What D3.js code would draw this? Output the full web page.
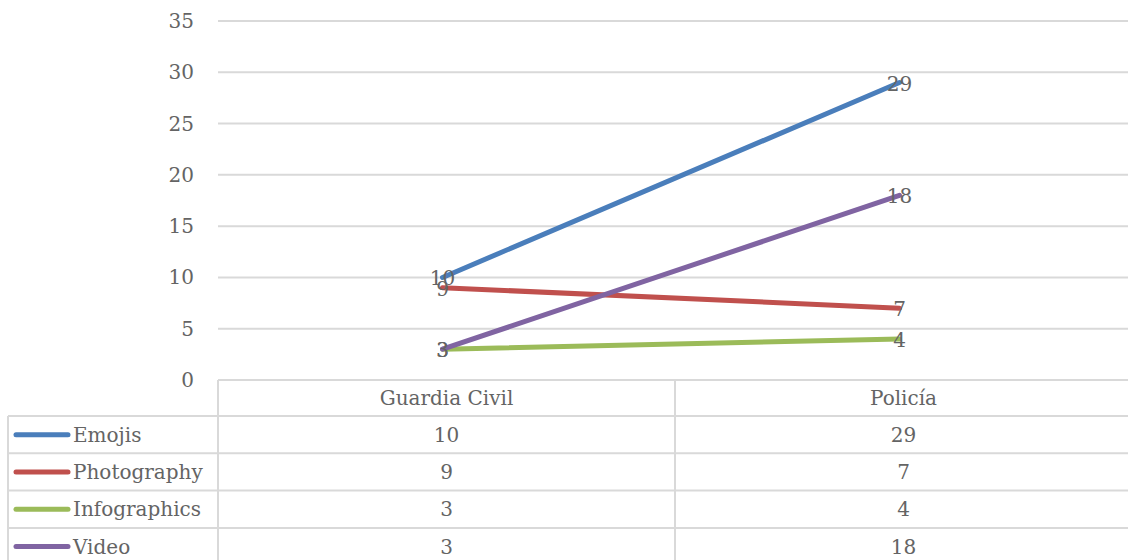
<!DOCTYPE html>
<html>
<head>
<meta charset="utf-8">
<script src="https://cdn.jsdelivr.net/npm/d3@7"></script>
<style>
  body { margin: 0; background: #fff; }
  text { font-family: "DejaVu Serif", "Liberation Serif", serif; fill: #646464; }
</style>
</head>
<body>
<script>
const categories = ["Guardia Civil", "Policía"];
const seriesNames = ["Emojis", "Photography", "Infographics", "Video"];
const emojis = [10, 29];
const photography = [9, 7];
const infographics = [3, 4];
const video = [3, 18];
const colors = ["#4a7ebb", "#c0504d", "#9bbb59", "#8064a2"];
const yTicks = [0, 5, 10, 15, 20, 25, 30, 35];

const series = [emojis, photography, infographics, video];

const w = 1128, h = 560;
const plot = {left: 218, right: 1132, top: 21, bottom: 380};
const rowH = 37.3;
const tableLeft = 8;
const fs = 20;

const svg = d3.select("body").append("svg")
    .attr("width", w)
    .attr("height", h);

let x = d3.scaleBand()
    .domain(categories)
    .range([plot.left, plot.right]);

let y = d3.scaleLinear()
    .domain([0, 35])
    .range([plot.bottom, plot.top]);

// gridlines
svg.selectAll(".grid")
    .data(yTicks.filter(d => d > 0))
    .enter().append("line")
    .attr("x1", plot.left)
    .attr("x2", w)
    .attr("y1", d => y(d))
    .attr("y2", d => y(d))
    .attr("stroke", "#d9d9d9")
    .attr("stroke-width", 2);

// y tick labels
svg.selectAll(".ytick")
    .data(yTicks)
    .enter().append("text")
    .attr("x", 194)
    .attr("y", d => y(d))
    .attr("dy", "0.35em")
    .attr("text-anchor", "end")
    .attr("font-size", fs)
    .text(d => d);

// data table lines
const tableRows = d3.range(seriesNames.length + 1);
const border = "#d9d9d9";
svg.append("line")
    .attr("x1", plot.left).attr("x2", w)
    .attr("y1", plot.bottom).attr("y2", plot.bottom)
    .attr("stroke", border).attr("stroke-width", 2);
svg.selectAll(".hrow")
    .data(tableRows.slice(1))
    .enter().append("line")
    .attr("x1", tableLeft).attr("x2", w)
    .attr("y1", d => plot.bottom + 36 + (d - 1) * rowH)
    .attr("y2", d => plot.bottom + 36 + (d - 1) * rowH)
    .attr("stroke", border).attr("stroke-width", 2);
svg.append("line")
    .attr("x1", tableLeft).attr("x2", tableLeft)
    .attr("y1", plot.bottom + 36).attr("y2", h)
    .attr("stroke", border).attr("stroke-width", 2);
svg.selectAll(".vcol")
    .data(categories)
    .enter().append("line")
    .attr("x1", d => x(d)).attr("x2", d => x(d))
    .attr("y1", plot.bottom).attr("y2", h)
    .attr("stroke", border).attr("stroke-width", 2);

// header
svg.selectAll(".cat")
    .data(categories)
    .enter().append("text")
    .attr("x", d => x(d) + x.bandwidth() / 2)
    .attr("y", plot.bottom + 18)
    .attr("dy", "0.35em")
    .attr("text-anchor", "middle")
    .attr("font-size", fs)
    .text(d => d);

// table rows
const rowY = i => plot.bottom + 36 + i * rowH + rowH / 2;
seriesNames.forEach((name, i) => {
    svg.append("line")
        .attr("x1", 16).attr("x2", 68)
        .attr("y1", rowY(i)).attr("y2", rowY(i))
        .attr("stroke", colors[i])
        .attr("stroke-width", 5)
        .attr("stroke-linecap", "round");
    svg.append("text")
        .attr("x", 73)
        .attr("y", rowY(i))
        .attr("dy", "0.35em")
        .attr("font-size", fs)
        .text(name);
    svg.selectAll(".val" + i)
        .data(series[i])
        .enter().append("text")
        .attr("x", (d, j) => x(categories[j]) + x.bandwidth() / 2)
        .attr("y", rowY(i))
        .attr("dy", "0.35em")
        .attr("text-anchor", "middle")
        .attr("font-size", fs)
        .text(d => d);
});

// lines
let line = d3.line()
    .x((d, j) => x(categories[j]) + x.bandwidth() / 2 - 4)
    .y(d => y(d));

series.forEach((s, i) => {
    svg.append("path")
        .datum(s)
        .attr("d", line)
        .attr("fill", "none")
        .attr("stroke", colors[i])
        .attr("stroke-width", 5)
        .attr("stroke-linecap", "round");
});

// data labels
series.forEach((s, i) => {
    svg.selectAll(".lab" + i)
        .data(s)
        .enter().append("text")
        .attr("x", (d, j) => x(categories[j]) + x.bandwidth() / 2 - 4)
        .attr("y", d => y(d))
        .attr("dy", "0.4em")
        .attr("text-anchor", "middle")
        .attr("font-size", fs)
        .text(d => d);
});
</script>
</body>
</html>
